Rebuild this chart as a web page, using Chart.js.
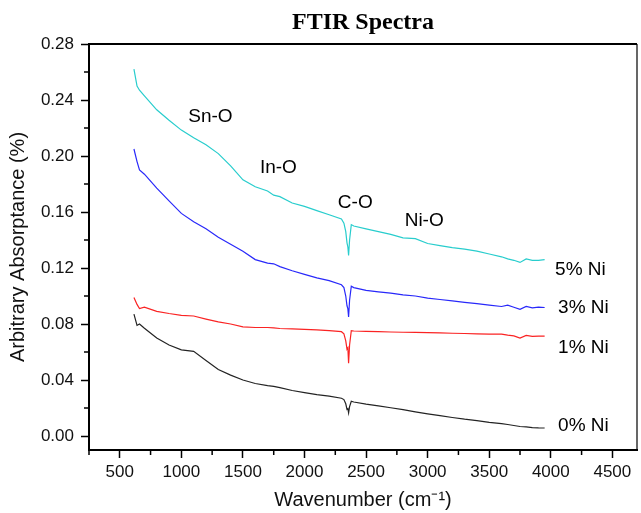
<!DOCTYPE html>
<html>
<head>
<meta charset="utf-8">
<script src="https://cdn.jsdelivr.net/npm/chart.js@4.4.0/dist/chart.umd.min.js"></script>
<style>
  body { margin: 0; background: #fff; }
  #wrap { width: 641px; height: 513px; }
</style>
</head>
<body>
<div id="wrap"><canvas id="myChart" width="641" height="513"></canvas></div>
<script>
// wavenumber grid (cm-1) shared by all spectra
const wavenumber = [615, 640, 660, 700, 800, 900, 1000, 1100, 1200, 1300, 1400, 1500, 1600, 1700, 1750, 1800, 1900, 2000, 2100, 2200, 2300, 2320, 2335, 2345, 2352, 2358, 2366, 2380, 2400, 2500, 2600, 2700, 2800, 2900, 3000, 3100, 3200, 3300, 3400, 3500, 3600, 3650, 3700, 3750, 3800, 3850, 3900, 3950];

const ni5 = [0.262, 0.250, 0.247, 0.243, 0.233, 0.2255, 0.2185, 0.213, 0.208, 0.2017, 0.193, 0.183, 0.178, 0.175, 0.172, 0.171, 0.1664, 0.164, 0.161, 0.158, 0.155, 0.152, 0.146, 0.138, 0.135, 0.129, 0.140, 0.151, 0.150, 0.148, 0.146, 0.144, 0.1415, 0.141, 0.1375, 0.136, 0.1345, 0.1335, 0.132, 0.130, 0.128, 0.1265, 0.1255, 0.124, 0.1265, 0.1255, 0.1255, 0.126];
const ni3 = [0.205, 0.196, 0.190, 0.187, 0.177, 0.168, 0.159, 0.153, 0.148, 0.142, 0.137, 0.132, 0.126, 0.1235, 0.123, 0.121, 0.118, 0.1155, 0.113, 0.111, 0.108, 0.106, 0.100, 0.093, 0.091, 0.085, 0.097, 0.107, 0.106, 0.104, 0.103, 0.102, 0.1008, 0.100, 0.0985, 0.0975, 0.0965, 0.0955, 0.0945, 0.0935, 0.0925, 0.0935, 0.092, 0.0905, 0.0925, 0.0915, 0.092, 0.0918];
const ni1 = [0.099, 0.094, 0.091, 0.092, 0.089, 0.0875, 0.0862, 0.0857, 0.0835, 0.0815, 0.080, 0.0780, 0.0775, 0.0775, 0.0772, 0.0768, 0.0765, 0.0762, 0.0758, 0.0752, 0.0745, 0.073, 0.068, 0.062, 0.063, 0.052, 0.065, 0.0752, 0.075, 0.0748, 0.0745, 0.0743, 0.0741, 0.0740, 0.0738, 0.0736, 0.0734, 0.0732, 0.0730, 0.0728, 0.0727, 0.0720, 0.0715, 0.0700, 0.0718, 0.0712, 0.0714, 0.0714];
const ni0 = [0.087, 0.079, 0.080, 0.077, 0.070, 0.065, 0.0615, 0.0605, 0.054, 0.0475, 0.0435, 0.040, 0.0375, 0.036, 0.0355, 0.0345, 0.0325, 0.031, 0.0295, 0.0285, 0.027, 0.026, 0.023, 0.019, 0.0195, 0.0165, 0.021, 0.0248, 0.0243, 0.0228, 0.0215, 0.0202, 0.0188, 0.0172, 0.0158, 0.0145, 0.0132, 0.0120, 0.0110, 0.0098, 0.0088, 0.0082, 0.0075, 0.0068, 0.0065, 0.006, 0.0058, 0.0057];

const seriesNames = ['5% Ni', '3% Ni', '1% Ni', '0% Ni'];
const xTicks = [500, 1000, 1500, 2000, 2500, 3000, 3500, 4000, 4500];
const yTicks = [0.00, 0.04, 0.08, 0.12, 0.16, 0.20, 0.24, 0.28];

// text placed on the plot: [text, wavenumber, absorptance, align]
const notes = [
    ['Sn-O', 1236, 0.228, 'center'],
    ['In-O', 1788, 0.1914, 'center'],
    ['C-O', 2412, 0.1664, 'center'],
    ['Ni-O', 2972, 0.1536, 'center'],
    ['5% Ni', 4035, 0.1186, 'left'],
    ['3% Ni', 4059, 0.0914, 'left'],
    ['1% Ni', 4059, 0.0629, 'left'],
    ['0% Ni', 4059, 0.0071, 'left']
];

const sans = "'Liberation Sans', Arial, sans-serif";

function pts(ys) {
    return wavenumber.map((w, i) => ({x: w, y: ys[i]}));
}

const extras = {
    id: 'extras',
    afterDraw(chart) {
        const c = chart.ctx;
        const a = chart.chartArea;
        const xs = chart.scales.x, ys = chart.scales.y;
        c.save();
        // top and right frame
        c.strokeStyle = '#000';
        c.lineWidth = 2;
        c.beginPath();
        c.moveTo(a.left, a.top);
        c.lineTo(a.right, a.top);
        c.stroke();
        c.lineWidth = 1.2;
        c.beginPath();
        c.moveTo(a.right, a.top);
        c.lineTo(a.right, a.bottom);
        c.stroke();
        // minor ticks
        c.lineWidth = 1.5;
        c.beginPath();
        for (let v = 250; v <= 4750; v += 500) {
            const px = xs.getPixelForValue(v);
            if (px < a.left - 1 || px > a.right + 1) continue;
            c.moveTo(px, a.bottom);
            c.lineTo(px, a.bottom + 5);
        }
        for (let v = -0.02; v <= 0.30; v += 0.04) {
            const py = ys.getPixelForValue(v);
            if (py < a.top - 1 || py > a.bottom + 1) continue;
            c.moveTo(a.left, py);
            c.lineTo(a.left - 5, py);
        }
        c.stroke();
        // title
        c.fillStyle = '#000';
        c.font = "bold 24px 'Liberation Serif', 'Times New Roman', serif";
        c.textAlign = 'center';
        c.textBaseline = 'middle';
        c.fillText('FTIR Spectra', (a.left + a.right) / 2, 23);
        // notes
        c.font = '19px ' + sans;
        notes.forEach(n => {
            c.textAlign = n[3];
            c.fillText(n[0], xs.getPixelForValue(n[1]), ys.getPixelForValue(n[2]));
        });
        c.restore();
    }
};

const ctx = document.getElementById('myChart').getContext('2d');
const colors = ['rgb(40,205,205)', 'rgb(40,40,250)', 'rgb(250,35,35)', 'rgb(35,35,35)'];
const sets = [ni5, ni3, ni1, ni0];

myChart = new Chart(ctx, {
    type: 'line',
    data: {
        datasets: sets.map((s, i) => ({
            label: seriesNames[i],
            data: pts(s),
            borderColor: colors[i],
            borderWidth: 1.2,
            pointRadius: 0,
            tension: 0,
            fill: false
        }))
    },
    options: {
        responsive: false,
        animation: false,
        layout: {padding: {top: 44, right: 4, left: 0, bottom: 0}},
        plugins: {
            legend: {display: false},
            tooltip: {enabled: false},
            title: {display: false}
        },
        scales: {
            x: {
                type: 'linear',
                min: 250,
                max: 4700,
                afterBuildTicks: s => { s.ticks = xTicks.map(v => ({value: v})); },
                afterFit: s => { s.height = 63; },
                border: {display: true, color: '#000', width: 2},
                grid: {drawOnChartArea: false, drawTicks: true, tickLength: 8, tickColor: '#000', tickWidth: 1.5},
                ticks: {color: '#111', padding: 4, maxRotation: 0, font: {size: 17, family: sans}, callback: v => String(v)},
                title: {display: true, text: 'Wavenumber (cm\u207B\u00B9)', color: '#111', font: {size: 20, family: sans}, padding: {top: 0, bottom: 1}}
            },
            y: {
                min: -0.01,
                max: 0.28,
                afterBuildTicks: s => { s.ticks = yTicks.map(v => ({value: v})); },
                afterFit: s => { s.width = 89; },
                border: {display: true, color: '#000', width: 2},
                grid: {drawOnChartArea: false, drawTicks: true, tickLength: 8, tickColor: '#000', tickWidth: 1.5},
                ticks: {color: '#111', padding: 7, font: {size: 17, family: sans}, callback: v => v.toFixed(2)},
                title: {display: true, text: 'Arbitrary Absorptance (%)', color: '#111', font: {size: 20, family: sans}, padding: {top: 6, bottom: 0}}
            }
        }
    },
    plugins: [extras]
});
</script>
</body>
</html>
